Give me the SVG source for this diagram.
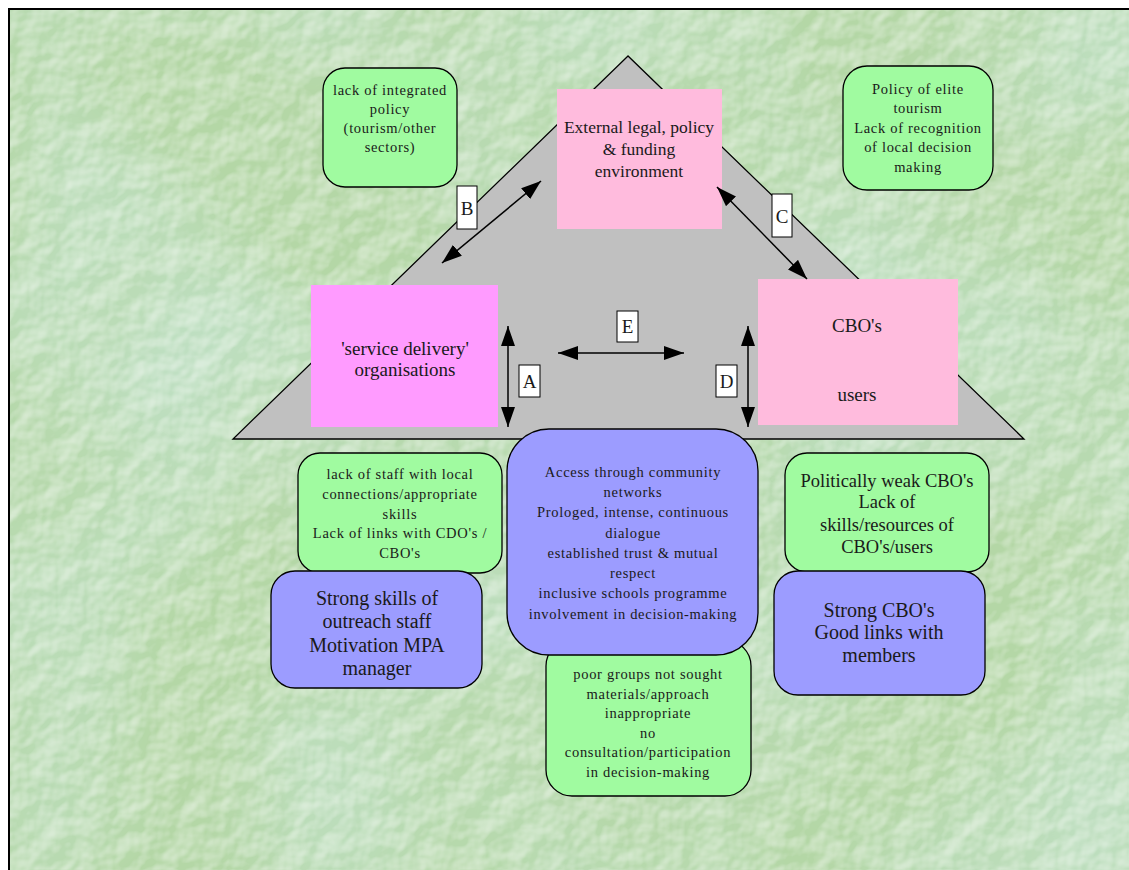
<svg xmlns="http://www.w3.org/2000/svg" width="1129" height="870" viewBox="0 0 1129 870">
  <style>
    text { font-family: "Liberation Serif", "Times New Roman", serif; fill: #1a1a1a; text-anchor: middle; }
    .sm { font-size: 14.5px; letter-spacing: 0.7px; }
    .md { font-size: 17.5px; }
    .wk { font-size: 18.5px; }
    .lg { font-size: 20px; }
    .lbl { font-size: 19px; }
    .green { fill: #a0fba0; stroke: #000; stroke-width: 1.3; }
    .blue { fill: #9c9cff; stroke: #000; stroke-width: 1.3; }
    .pink { fill: #ffbbdd; }
    .magenta { fill: #ff9bff; }
    .tag { fill: #fff; stroke: #000; stroke-width: 1; }
    .conn { stroke: #000; stroke-width: 1.5; fill: none; marker-start: url(#head); marker-end: url(#head); }
  </style>
  <defs>
    <marker id="head" viewBox="0 0 20 14" refX="20" refY="7" markerWidth="20" markerHeight="14" markerUnits="userSpaceOnUse" orient="auto-start-reverse">
      <path d="M0,0 L20,7 L0,14 Z" fill="#000"/>
    </marker>
    <!-- embossed paper texture for the backdrop -->
    <filter id="paper" x="0" y="0" width="100%" height="100%" color-interpolation-filters="sRGB">
      <feTurbulence type="fractalNoise" baseFrequency="0.035" numOctaves="3" seed="7" result="noise"/>
      <feDiffuseLighting in="noise" surfaceScale="3" lighting-color="#ffffff" result="light">
        <feDistantLight azimuth="235" elevation="50"/>
      </feDiffuseLighting>
      <feColorMatrix in="light" type="matrix" values="0 0 0 0 1  0 0 0 0 1  0 0 0 0 1  1.6 0 0 0 -1.05" result="hi"/>
      <feTurbulence type="fractalNoise" baseFrequency="0.004" numOctaves="2" seed="3" result="big"/>
      <feColorMatrix in="big" type="matrix" values="0 0 0 0 0.78  0 0 0 0 0.90  0 0 0 0 0.84  1.2 0 0 0 -0.45" result="patch"/>
      <feFlood flood-color="#b4d7a6" result="base"/>
      <feComposite in="patch" in2="base" operator="over" result="tint"/>
      <feComposite in="hi" in2="tint" operator="over"/>
    </filter>
  </defs>

  <!-- page -->
  <rect x="0" y="0" width="1129" height="870" fill="#fff"/>
  <rect x="9" y="9" width="1120" height="861" filter="url(#paper)"/>
  <path d="M9,870 L9,9 L1129,9" fill="none" stroke="#000" stroke-width="2"/>

  <!-- house outline -->
  <polygon id="roof" points="628,56 233,439 1024,439" fill="#c0c0c0" stroke="#000" stroke-width="1.3"/>

  <g id="external">
    <rect class="pink" x="557" y="89" width="165" height="140"/>
    <text class="md" x="639" y="133">External legal, policy</text>
    <text class="md" x="639" y="155">&amp; funding</text>
    <text class="md" x="639" y="177">environment</text>
  </g>

  <g id="service">
    <rect class="magenta" x="311" y="285" width="187" height="142"/>
    <text class="lbl" x="405" y="355">'service delivery'</text>
    <text class="lbl" x="405" y="376">organisations</text>
  </g>

  <g id="cbo">
    <rect class="pink" x="758" y="279" width="200" height="146"/>
    <text class="lbl" x="857" y="332">CBO's</text>
    <text class="lbl" x="857" y="401">users</text>
  </g>

  <g id="connectors">
    <line class="conn" x1="442" y1="263" x2="541" y2="181"/>
    <line class="conn" x1="717" y1="187" x2="807" y2="279"/>
    <line class="conn" x1="508" y1="326" x2="508" y2="427"/>
    <line class="conn" x1="748" y1="326" x2="748" y2="427"/>
    <line class="conn" x1="558" y1="353" x2="684" y2="353"/>
    <g id="tag-a"><rect class="tag" x="519" y="365" width="21" height="32"/><text class="lbl" x="529.5" y="388">A</text></g>
    <g id="tag-b"><rect class="tag" x="457" y="186" width="20" height="43"/><text class="lbl" x="467" y="215">B</text></g>
    <g id="tag-c"><rect class="tag" x="772" y="194" width="20" height="43"/><text class="lbl" x="782" y="223">C</text></g>
    <g id="tag-d"><rect class="tag" x="716" y="365" width="21" height="32"/><text class="lbl" x="726.5" y="388">D</text></g>
    <g id="tag-e"><rect class="tag" x="617" y="311" width="21" height="31"/><text class="lbl" x="627.5" y="333">E</text></g>
  </g>

  <g id="note-integrated">
    <rect class="green" x="323" y="68" width="134" height="119" rx="22"/>
    <text class="sm" x="390" y="95">lack of integrated</text>
    <text class="sm" x="390" y="114">policy</text>
    <text class="sm" x="390" y="133">(tourism/other</text>
    <text class="sm" x="390" y="152">sectors)</text>
  </g>

  <g id="note-elite">
    <rect class="green" x="843" y="66" width="150" height="124" rx="24"/>
    <text class="sm" x="918" y="94">Policy of elite</text>
    <text class="sm" x="918" y="113">tourism</text>
    <text class="sm" x="918" y="133">Lack of recognition</text>
    <text class="sm" x="918" y="152">of local decision</text>
    <text class="sm" x="918" y="172">making</text>
  </g>

  <g id="note-staff">
    <rect class="green" x="298" y="453" width="204" height="120" rx="22"/>
    <text class="sm" x="400" y="479">lack of staff with local</text>
    <text class="sm" x="400" y="499">connections/appropriate</text>
    <text class="sm" x="400" y="519">skills</text>
    <text class="sm" x="400" y="538">Lack of links with CDO's /</text>
    <text class="sm" x="400" y="558">CBO's</text>
  </g>

  <g id="strength-outreach">
    <rect class="blue" x="271" y="571" width="211" height="117" rx="24"/>
    <text class="lg" x="377" y="605">Strong skills of</text>
    <text class="lg" x="377" y="628">outreach staff</text>
    <text class="lg" x="377" y="652">Motivation MPA</text>
    <text class="lg" x="377" y="675">manager</text>
  </g>

  <g id="note-poor">
    <rect class="green" x="546" y="640" width="205" height="156" rx="26"/>
    <text class="sm" x="648" y="679">poor groups not sought</text>
    <text class="sm" x="648" y="699">materials/approach</text>
    <text class="sm" x="648" y="718">inappropriate</text>
    <text class="sm" x="648" y="738">no</text>
    <text class="sm" x="648" y="757">consultation/participation</text>
    <text class="sm" x="648" y="777">in decision-making</text>
  </g>

  <g id="strength-access">
    <rect class="blue" x="507" y="429" width="251" height="226" rx="42"/>
    <text class="sm" x="633" y="477">Access through community</text>
    <text class="sm" x="633" y="497">networks</text>
    <text class="sm" x="633" y="517">Prologed, intense, continuous</text>
    <text class="sm" x="633" y="538">dialogue</text>
    <text class="sm" x="633" y="558">established trust &amp; mutual</text>
    <text class="sm" x="633" y="578">respect</text>
    <text class="sm" x="633" y="598">inclusive schools programme</text>
    <text class="sm" x="633" y="619">involvement in decision-making</text>
  </g>

  <g id="note-weak">
    <rect class="green" x="785" y="453" width="204" height="119" rx="22"/>
    <text class="wk" x="887" y="487">Politically weak CBO's</text>
    <text class="wk" x="887" y="508">Lack of</text>
    <text class="wk" x="887" y="531">skills/resources of</text>
    <text class="wk" x="887" y="553">CBO's/users</text>
  </g>

  <g id="strength-cbo">
    <rect class="blue" x="774" y="571" width="211" height="124" rx="24"/>
    <text class="lg" x="879" y="617">Strong CBO's</text>
    <text class="lg" x="879" y="639">Good links with</text>
    <text class="lg" x="879" y="662">members</text>
  </g>
</svg>
